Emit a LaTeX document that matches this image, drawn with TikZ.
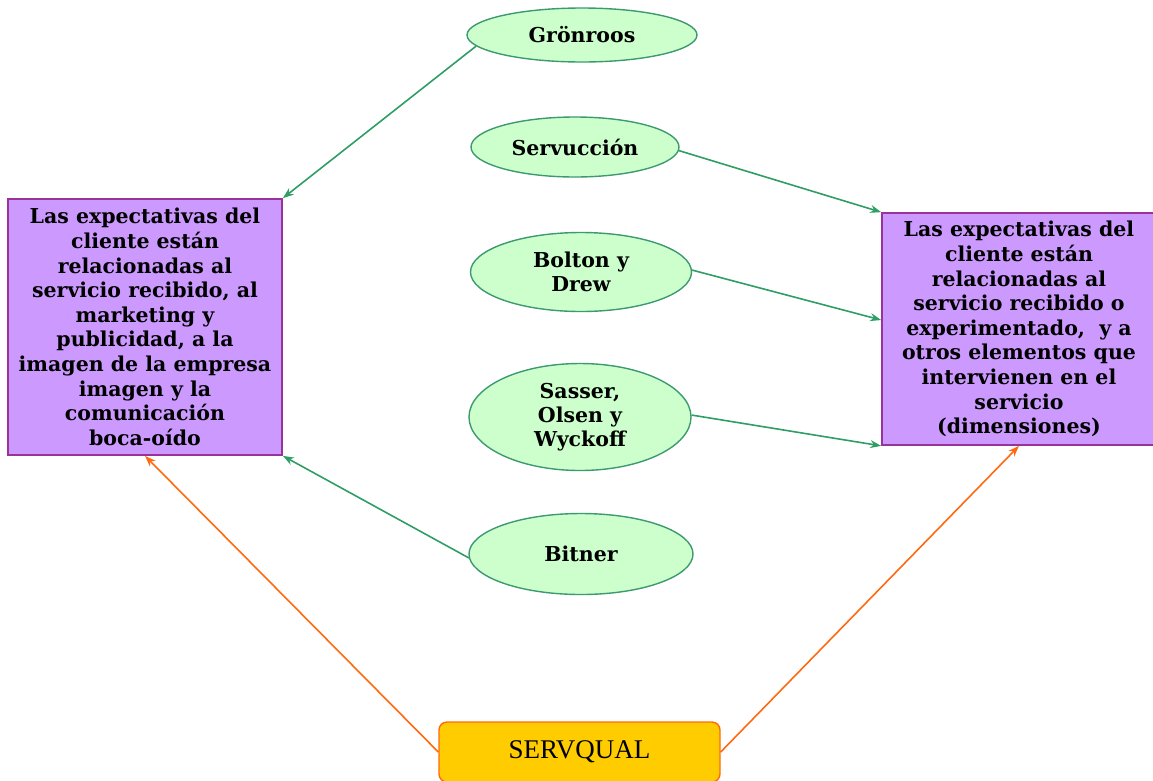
\documentclass[tikz,border=0pt]{standalone}
\usepackage{fontspec}
\setmainfont{DejaVu Serif}
\newfontfamily\timesfont{Liberation Serif}
\usetikzlibrary{shapes.geometric,arrows.meta,calc}
\definecolor{boxfill}{HTML}{CC99FF}
\definecolor{boxline}{HTML}{993399}
\definecolor{ovalfill}{HTML}{CCFFCC}
\definecolor{ovalline}{HTML}{3D9970}
\definecolor{arrowgreen}{HTML}{2E9E66}
\definecolor{goldfill}{HTML}{FFCC00}
\definecolor{orangeline}{HTML}{FF6A10}
\tikzset{
  author/.style={ellipse, draw=ovalline, fill=ovalfill, line width=1.4pt,
    inner sep=0pt, align=center, font=\fontsize{20.5}{24}\selectfont\bfseries},
  idea/.style={rectangle, draw=boxline, fill=boxfill, line width=1.7pt,
    inner sep=0pt, align=center, font=\fontsize{20.5}{24.6}\selectfont\bfseries},
  greenarrow/.style={draw=arrowgreen, line width=1.6pt,
    -{Stealth[length=11pt,width=8pt]}},
  orangearrow/.style={draw=orangeline, line width=1.6pt,
    -{Stealth[length=11pt,width=8pt]}}
}
\begin{document}
\begin{tikzpicture}[x=1pt, y=-1pt]
\useasboundingbox (0,0) rectangle (1153,780);
\clip (0,0) rectangle (1153,780);

% expectation boxes
\node[idea, minimum width=274pt, minimum height=256pt] (left) at (145,327)
  {Las expectativas del\\cliente están\\relacionadas al\\servicio recibido, al\\marketing y\\publicidad, a la\\imagen de la empresa\\imagen y la\\comunicación\\boca-oído};
\node[idea, minimum width=274pt, minimum height=232pt] (right) at (1019,329)
  {Las expectativas del\\cliente están\\relacionadas al\\servicio recibido o\\experimentado,\ \ y a\\otros elementos que\\intervienen en el\\servicio\\(dimensiones)};

% authors
\node[author, minimum width=230pt, minimum height=54pt] (gron) at (582,35) {Grönroos};
\node[author, minimum width=208pt, minimum height=60pt] (serv) at (575,147) {Servucción};
\node[author, minimum width=221pt, minimum height=79pt] (bolt) at (581,272) {Bolton y\\Drew};
\node[author, minimum width=222pt, minimum height=107pt] (sass) at (580,417) {Sasser,\\Olsen y\\Wyckoff};
\node[author, minimum width=224pt, minimum height=81pt] (bitn) at (581,554) {Bitner};

% model
\node[rectangle, rounded corners=8pt, draw=orangeline, fill=goldfill, line width=1.4pt,
  minimum width=281pt, minimum height=60pt, font=\timesfont\fontsize{27}{30}\selectfont]
  (servq) at (579.5,752) {SERVQUAL};

% connectors
\draw[greenarrow] (gron.186) -- (left.north east);
\draw[greenarrow] (serv.-2) -- (right.north west);
\draw[greenarrow] (bolt.1) -- ([yshift=9pt]right.west);
\draw[greenarrow] (sass.1) -- (right.south west);
\draw[greenarrow] (bitn.182) -- (left.south east);
\draw[orangearrow] (servq.west) -- (left.south);
\draw[orangearrow] (servq.east) -- (right.south);
\end{tikzpicture}
\end{document}
